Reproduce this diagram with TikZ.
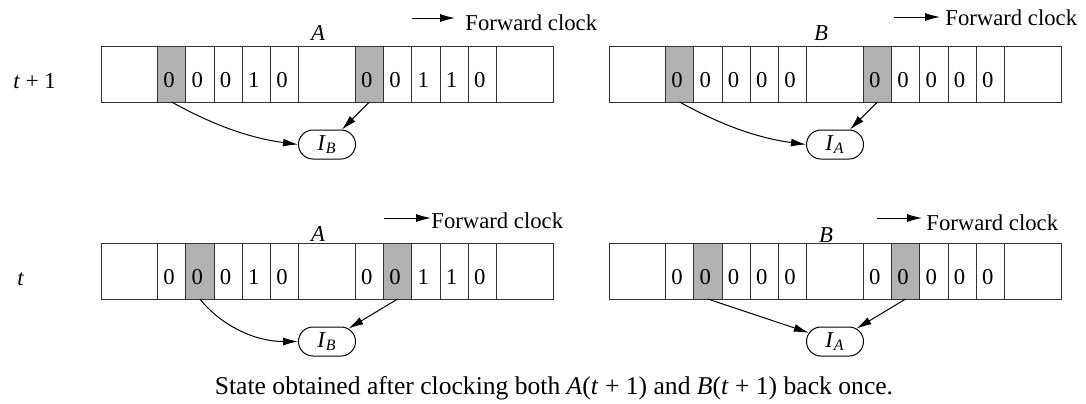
\documentclass[tikz,border=0pt]{standalone}
\usepackage{fontspec}
\setmainfont{Liberation Serif}
\usetikzlibrary{arrows.meta,positioning,shapes.misc}

\colorlet{regshade}{black!30}
\newcommand{\cellw}{14.125pt}

% one register of 13 cells: #1 name, #2 left end, #3 middle height, #4 digit/fill list
\newcommand{\register}[4]{%
  \foreach \v/\f [count=\i] in {#4} {
    \pgfmathsetmacro\cellpos{{0,2,3,4,5,6,7,9,10,11,12,13,14}[\i-1]}
    \pgfmathsetmacro\cellspan{{2,1,1,1,1,1,2,1,1,1,1,1,2}[\i-1]}
    \node[cell, fill=\f, minimum width=\cellspan*\cellw, anchor=west]
      (#1\i) at ({#2+\cellpos*28.25}, #3) {\v\kern2.5pt};
  }
}

\tikzset{
  cell/.style={draw=black!80, line width=0.5pt, minimum height=28pt,
    text height=20.8pt, text depth=7.2pt, inner sep=0pt, outer sep=0pt},
  ibox/.style={draw, rounded rectangle, minimum width=28.5pt,
    minimum height=14.5pt, inner sep=0pt, line width=0.5pt},
  feed/.style={-{Latex[length=7.5pt,width=4pt]}, line width=0.5pt},
  clock/.style={anchor=base west, inner sep=0pt},
  rowlabel/.style={anchor=base west, inner sep=0pt}
}

\begin{document}
\begin{tikzpicture}[x=0.5pt, y=-0.5pt, font=\fontsize{11.35}{13.6}\selectfont]
\useasboundingbox (0,0) rectangle (1086,403);

% state at t+1
\node[rowlabel] (rownext) at (13,88) {\textit{t} + 1};
\register{An}{101}{74}{{}/white, 0/regshade, 0/white, 0/white, 1/white, 0/white, {}/white,
  0/regshade, 0/white, 1/white, 1/white, 0/white, {}/white}
\register{Bn}{609}{74}{{}/white, 0/regshade, 0/white, 0/white, 0/white, 0/white, {}/white,
  0/regshade, 0/white, 0/white, 0/white, 0/white, {}/white}
\node (labAn) at (318,33) {\textit{A}};
\node (labBn) at (821,33) {\textit{B}};

\node[clock] (fwdAn) at (465,30) {Forward clock};
\coordinate (tailAn) at (412,18);
\draw[feed, shorten >=5pt] (tailAn) -- (tailAn -| fwdAn.west);
\node[clock] (fwdBn) at (945,25) {Forward clock};
\coordinate (tailBn) at (894,17);
\draw[feed, shorten >=2.5pt] (tailBn) -- (tailBn -| fwdBn.west);

\node[ibox] (IBn) at (327,144.5) {\textit{I}\textsubscript{\textit{B}}};
\node[ibox] (IAn) at (835,144.5) {\textit{I}\textsubscript{\textit{A}}};

\draw[feed] (An2.south) .. controls +(45,25) and +(-45,-6) .. (IBn.west);
\draw[feed] (An8.south) -- (IBn);
\draw[feed] (Bn2.south) .. controls +(45,25) and +(-45,-6) .. (IAn.west);
\draw[feed] (Bn8.south) -- (IAn);

% state at t
\node[rowlabel] (rownow) at (17,285) {\textit{t}};
\register{At}{101}{271}{{}/white, 0/white, 0/regshade, 0/white, 1/white, 0/white, {}/white,
  0/white, 0/regshade, 1/white, 1/white, 0/white, {}/white}
\register{Bt}{609}{271}{{}/white, 0/white, 0/regshade, 0/white, 0/white, 0/white, {}/white,
  0/white, 0/regshade, 0/white, 0/white, 0/white, {}/white}
\node (labAt) at (318,234) {\textit{A}};
\node (labBt) at (826,235) {\textit{B}};

\node[clock] (fwdAt) at (431,228) {Forward clock};
\coordinate (tailAt) at (384,218);
\draw[feed] (tailAt) -- (tailAt -| fwdAt.west);
\node[clock] (fwdBt) at (926,230) {Forward clock};
\coordinate (tailBt) at (877,218);
\draw[feed, shorten >=2pt] (tailBt) -- (tailBt -| fwdBt.west);

\node[ibox] (IBt) at (327,341.5) {\textit{I}\textsubscript{\textit{B}}};
\node[ibox] (IAt) at (835,341.5) {\textit{I}\textsubscript{\textit{A}}};

\draw[feed] (At3.south) .. controls +(20,25) and +(-45,0) .. (IBt.west);
\draw[feed] (At9.south) -- (IBt);
\draw[feed] (Bt3.south) -- (IAt);
\draw[feed] (Bt9.south) -- (IAt);

\node[anchor=base, font=\fontsize{12.8}{15}\selectfont] (caption) at (554,394)
  {State obtained after clocking both \textit{A}(\textit{t} + 1) and \textit{B}(\textit{t} + 1) back once.};
\end{tikzpicture}
\end{document}
